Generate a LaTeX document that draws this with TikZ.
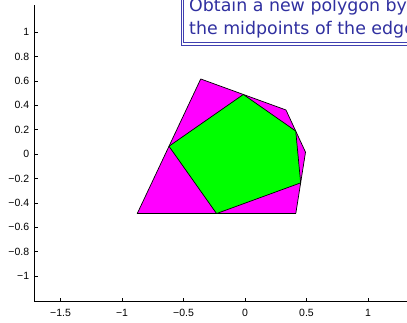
\documentclass[tikz,border=0pt]{standalone}
\usepackage{fontspec}
\setmainfont{Liberation Sans}
\newfontfamily\boxfont{DejaVu Sans}
\usetikzlibrary{calc}
\definecolor{boxblue}{RGB}{64,64,176}
\definecolor{textblue}{RGB}{48,48,160}
\definecolor{polymag}{RGB}{255,0,255}
\definecolor{polygreen}{RGB}{0,255,0}
\begin{document}
\begin{tikzpicture}[x=1pt,y=-1pt,
  axisline/.style={line width=0.6pt,black},
  tickline/.style={line width=0.5pt,black},
  ticklab/.style={font=\fontsize{10.5}{11}\selectfont,inner sep=0pt},
  outerpoly/.style={fill=polymag,draw=black,line width=0.7pt,line join=round},
  innerpoly/.style={fill=polygreen,draw=black,line width=0.7pt,line join=round},
  boxline/.style={draw=boxblue,line width=0.9pt}]
\useasboundingbox (0,0) rectangle (407,322);
\begin{scope}
\clip (0,0) rectangle (407,322);
% data scope
\begin{scope}[shift={(245,154)},x=123pt,y=122pt]
  % polygons
  \coordinate (A) at (-0.360,0.615);
  \coordinate (B) at (0.333,0.361);
  \coordinate (C) at (0.492,0.015);
  \coordinate (D) at (0.413,-0.488);
  \coordinate (E) at (-0.876,-0.488);
  \coordinate (AB) at ($(A)!0.5!(B)$);
  \coordinate (BC) at ($(B)!0.5!(C)$);
  \coordinate (CD) at ($(C)!0.5!(D)$);
  \coordinate (DE) at ($(D)!0.5!(E)$);
  \coordinate (EA) at ($(E)!0.5!(A)$);
  \path[outerpoly] (A) -- (B) -- (C) -- (D) -- (E) -- cycle;
  \path[innerpoly] (AB) -- (BC) -- (CD) -- (DE) -- (EA) -- cycle;
  % axes
  \coordinate (O1) at (-1.713,-1.211);
  \coordinate (Ytop) at (-1.713,1.221);
  \coordinate (Xend) at (1.40,-1.211);
  \draw[axisline] (Ytop) -- (O1) -- (Xend);
  \foreach \v/\t [count=\i] in {1/1,0.8/0.8,0.6/0.6,0.4/0.4,0.2/0.2,0/0,-0.2/−0.2,-0.4/−0.4,-0.6/−0.6,-0.8/−0.8,-1/−1}{
    \draw[tickline] (-1.713,\v) -- ++(3.5/123,0);
    \node[ticklab,anchor=east,name=yl\i] at (-1.713-5/123,\v) {\t};
  }
  \foreach \v/\t [count=\i] in {-1.5/−1.5,-1/−1,-0.5/−0.5,0/0,0.5/0.5,1/1}{
    \draw[tickline] (\v,-1.211) -- ++(0,3.5/122);
    \node[ticklab,anchor=center,name=xl\i] at (\v,-1.211-11/122) {\t};
  }
\end{scope}
% text box
\fill[white] (181.2,45.3) rectangle (440,-20);
\draw[boxline] (181.2,45.3) rectangle (440,-20);
\draw[boxline] (183.8,42.7) rectangle (437,-17);
\node[anchor=base west,inner sep=0pt,align=left,text=textblue,
      font=\boxfont\fontsize{17.4}{23.3}\selectfont] (msg) at (189,34.3)
  {Obtain a new polygon by\\the midpoints of the edge};
\end{scope}
\end{tikzpicture}
\end{document}
